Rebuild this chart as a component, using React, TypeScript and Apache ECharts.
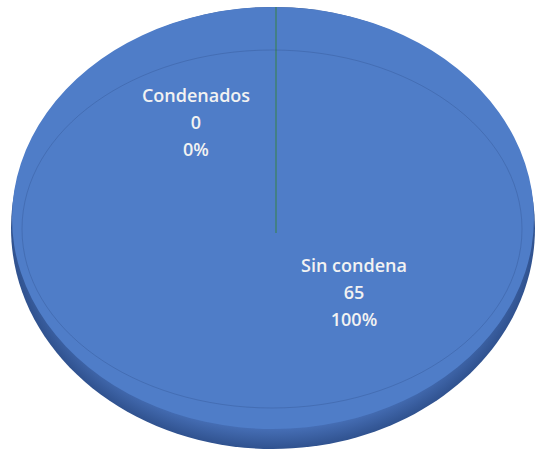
import React, { useEffect, useRef } from "react";
import * as echarts from "echarts";

const categories = ["Condenados", "Sin condena"];
const values = [0, 65];

const total = values.reduce((a, b) => a + b, 0);
const startAngles: number[] = [];
{
  let acc = -Math.PI / 2;
  values.forEach((v) => {
    startAngles.push(acc);
    acc += (v / total) * Math.PI * 2;
  });
}

const layout = {
  cx: 273,
  cy: 218,
  rx: 261,
  ry: 211,
  labelPos: [
    [196, 122],
    [354, 292],
  ],
};

const FACE = "#4F7DC8";

export default function App() {
  const ref = useRef<HTMLDivElement>(null);
  useEffect(() => {
    if (!ref.current) return;
    const chart = echarts.init(ref.current, null, { renderer: "svg" });
    const R = 100;
    chart.setOption({
      animation: false,
      backgroundColor: "#ffffff",
      graphic: [
        {
          type: "ellipse",
          z: 0,
          shape: { cx: 273, cy: 228, rx: 262, ry: 221 },
          style: {
            fill: {
              type: "radial",
              x: 0.5,
              y: 0.5,
              r: 0.5,
              colorStops: [
                { offset: 0, color: "#4A76C0" },
                { offset: 0.9, color: "#4871B9" },
                { offset: 1, color: "#30528F" },
              ],
            },
          },
        },
        {
          type: "ellipse",
          z: 100,
          silent: true,
          shape: { cx: 272, cy: 229, rx: 250, ry: 179 },
          style: { fill: "none", stroke: "rgba(35,65,120,0.25)", lineWidth: 1 },
        },
      ],
      series: [
        {
          type: "custom",
          coordinateSystem: "none",
          data: values.map((v, i) => ({ name: categories[i], value: v })),
          renderItem: (params: any, api: any) => {
            const i = params.dataIndex;
            const v = api.value(0);
            const a0 = startAngles[i];
            const a1 = a0 + (v / total) * Math.PI * 2;
            const { cx, cy, rx, ry } = layout;
            const children: any[] = [];
            if (v > 0) {
              children.push({
                type: "sector",
                x: cx,
                y: cy,
                scaleX: rx / R,
                scaleY: ry / R,
                shape: { cx: 0, cy: 0, r: R, r0: 0, startAngle: a0, endAngle: a1, clockwise: true },
                style: { fill: FACE },
              });
            } else {
              children.push({
                type: "line",
                z2: 10,
                shape: {
                  x1: cx + 3,
                  y1: cy + 15,
                  x2: cx + 3 + rx * Math.cos(a0),
                  y2: cy + ry * Math.sin(a0),
                },
                style: { stroke: "#3F8070", lineWidth: 1.5 },
              });
            }
            const pct = Math.round((v / total) * 100);
            const [lx, ly] = layout.labelPos[i];
            children.push({
              type: "text",
              z2: 20,
              x: lx,
              y: ly,
              style: {
                text: `${categories[i]}\n${v}\n${pct}%`,
                fill: "#F2F2F2",
                fontFamily: "Open Sans",
                fontWeight: 600,
                fontSize: 18,
                lineHeight: 27,
                align: "center",
                verticalAlign: "middle",
              },
            });
            return { type: "group", children };
          },
        },
      ],
    });
    return () => chart.dispose();
  }, []);
  return (
    <div
      ref={ref}
      style={{ position: "fixed", left: 0, top: 0, width: 535, height: 450 }}
    />
  );
}
